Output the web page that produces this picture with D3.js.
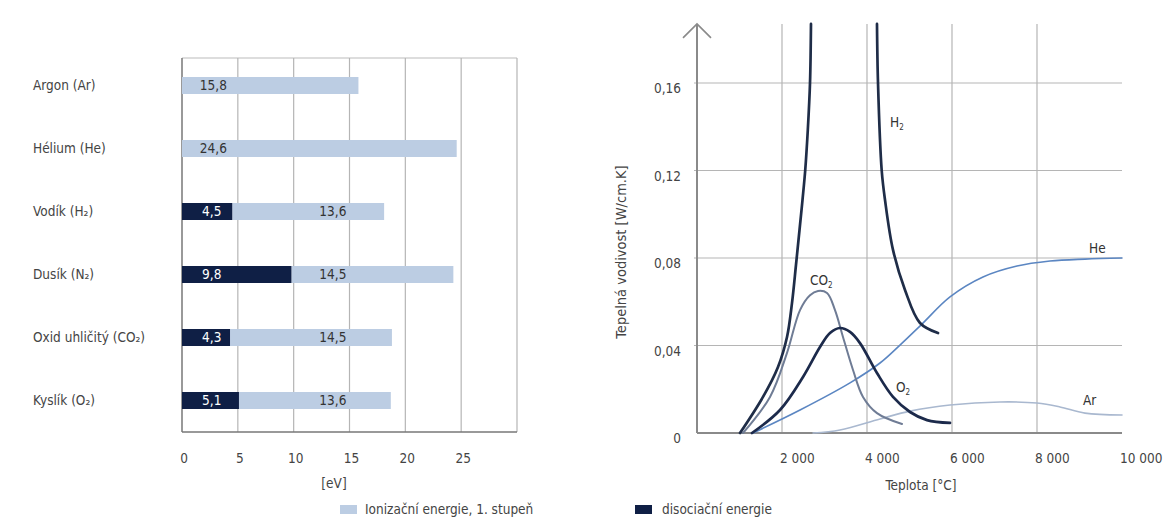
<!DOCTYPE html>
<html><head><meta charset="utf-8">
<script src="https://cdn.jsdelivr.net/npm/d3@7"></script>
<style>
body{margin:0;background:#fff;}
svg{display:block;font-family:"DejaVu Sans Condensed","Liberation Sans Narrow","Roboto",sans-serif;}
</style></head>
<body><svg id="c" width="1176" height="523"></svg>
<script>
// ---- Left chart data ----
const categories = ["Argon (Ar)", "Hélium (He)", "Vodík (H₂)", "Dusík (N₂)", "Oxid uhličitý (CO₂)", "Kyslík (O₂)"];
const dissociation = [0, 0, 4.5, 9.8, 4.3, 5.1];
const ionization = [15.8, 24.6, 13.6, 14.5, 14.5, 13.6];
const eVTicks = [0, 5, 10, 15, 20, 25];
const eVGrid = [0, 5, 10, 15, 20, 25, 30];

// ---- Right chart data: [temperature °C, conductivity W/cm.K] ----
const h2Left = [[1012,0],[1553,0.0165],[1906,0.0302],[2118,0.0439],[2235,0.0594],[2329,0.0768],[2412,0.0928],[2482,0.1065],[2546,0.120],[2607,0.1385],[2659,0.160],[2682,0.187]];
const h2Right = [[4235,0.187],[4259,0.160],[4346,0.120],[4424,0.1065],[4612,0.0837],[4894,0.0654],[5247,0.0503],[5671,0.0457]];
const co2 = [[1082,0],[1718,0.0165],[2118,0.0366],[2424,0.0562],[2659,0.063],[2847,0.0649],[3059,0.064],[3247,0.0562],[3435,0.0439],[3671,0.0288],[3906,0.0165],[4235,0.0091],[4824,0.0041]];
const o2 = [[1294,0],[1953,0.0105],[2494,0.0256],[2894,0.0393],[3129,0.0457],[3365,0.048],[3600,0.0462],[3835,0.0411],[4235,0.0274],[4612,0.0165],[5012,0.0096],[5412,0.0059],[5953,0.0046]];
const he = [[1318,0],[2424,0.0105],[3600,0.0229],[4306,0.0320],[4776,0.0402],[5294,0.0498],[5953,0.0622],[6729,0.0713],[7529,0.0763],[8306,0.0786],[9129,0.0795],[10000,0.080]];
const ar = [[2730,0],[3365,0.0014],[4306,0.0064],[5012,0.010],[5953,0.0128],[7129,0.0142],[8000,0.0137],[8541,0.0119],[9129,0.0091],[10000,0.0082]];
const tempTicks = [2000, 4000, 6000, 8000, 10000];
const condTicks = [0, 0.04, 0.08, 0.12, 0.16];

const svg = d3.select("#c");
const LIGHT = "#bccde3", DARK = "#0f1f45";
const FS = 13.5;
const fmt = v => String(v).replace(".", ",");

// ================= LEFT CHART =================
const x1 = d3.scaleLinear().domain([0, 30]).range([182, 517]);
const y1 = d3.scalePoint().domain(categories).range([54, 432]).padding(0.5);
const top1 = 58, bot1 = 432, barH = 17;
const L = svg.append("g");

L.append("line").attr("x1", x1(0)).attr("x2", x1(30)).attr("y1", top1).attr("y2", top1)
  .attr("stroke", "#bbb").attr("stroke-width", 1);
L.selectAll("line.vg").data(eVGrid).join("line").attr("class", "vg")
  .attr("x1", d => x1(d)).attr("x2", d => x1(d)).attr("y1", top1).attr("y2", bot1)
  .attr("stroke", d => d === 0 ? "#777" : "#b5b5b5").attr("stroke-width", d => d === 0 ? 1.5 : 1.2);
L.append("line").attr("x1", x1(0)).attr("x2", x1(30)).attr("y1", bot1).attr("y2", bot1)
  .attr("stroke", "#777").attr("stroke-width", 1.5);

const rows = categories.map((c, i) => ({c, dis: dissociation[i], ion: ionization[i]}));
L.selectAll("rect.ion").data(rows).join("rect").attr("class", "ion")
  .attr("x", d => x1(d.dis)).attr("width", d => x1(d.dis + d.ion) - x1(d.dis))
  .attr("y", d => y1(d.c) - barH / 2).attr("height", barH).attr("fill", LIGHT);
L.selectAll("rect.dis").data(rows.filter(d => d.dis > 0)).join("rect").attr("class", "dis")
  .attr("x", x1(0)).attr("width", d => x1(d.dis) - x1(0))
  .attr("y", d => y1(d.c) - barH / 2).attr("height", barH).attr("fill", DARK);

L.selectAll("text.cat").data(categories).join("text").attr("class", "cat")
  .attr("x", 33).attr("y", d => y1(d) + 4.5).attr("font-size", FS).attr("fill", "#444").text(d => d);
L.selectAll("text.dl").data(rows.filter(d => d.dis > 0)).join("text").attr("class", "dl")
  .attr("x", x1(1.8)).attr("y", d => y1(d.c) + 4.5).attr("font-size", FS).attr("fill", "#fff").text(d => fmt(d.dis));
L.selectAll("text.il").data(rows).join("text").attr("class", "il")
  .attr("x", d => d.dis > 0 ? x1(12.3) : x1(1.6)).attr("y", d => y1(d.c) + 4.5)
  .attr("font-size", FS).attr("fill", "#333").text(d => fmt(d.ion));

L.selectAll("text.xt").data(eVTicks).join("text").attr("class", "xt")
  .attr("x", d => x1(d) + 2).attr("y", 463).attr("text-anchor", "middle")
  .attr("font-size", FS).attr("fill", "#444").text(d => d);
L.append("text").attr("x", 334).attr("y", 488).attr("text-anchor", "middle")
  .attr("font-size", FS).attr("fill", "#444").text("[eV]");

// Legend
L.append("rect").attr("x", 340).attr("y", 505).attr("width", 17).attr("height", 9).attr("fill", LIGHT);
L.append("text").attr("x", 365).attr("y", 514).attr("font-size", FS).attr("fill", "#444").text("Ionizační energie, 1. stupeň");
L.append("rect").attr("x", 635).attr("y", 505).attr("width", 17).attr("height", 9).attr("fill", DARK);
L.append("text").attr("x", 662).attr("y", 514).attr("font-size", FS).attr("fill", "#444").text("disociační energie");

// ================= RIGHT CHART =================
const x2 = d3.scaleLinear().domain([0, 10000]).range([697, 1122]);
const y2 = d3.scaleLinear().domain([0, 0.16]).range([433, 83]);
const R = svg.append("g");
const yTop = y2(0.187);

R.selectAll("line.hg").data(condTicks.filter(d => d > 0)).join("line").attr("class", "hg")
  .attr("x1", x2(0) - 3).attr("x2", x2(10000)).attr("y1", d => y2(d)).attr("y2", d => y2(d))
  .attr("stroke", "#b5b5b5").attr("stroke-width", 1.2);
R.selectAll("line.vg").data(tempTicks.filter(d => d < 10000)).join("line").attr("class", "vg")
  .attr("x1", d => x2(d)).attr("x2", d => x2(d)).attr("y1", yTop).attr("y2", y2(0))
  .attr("stroke", "#b5b5b5").attr("stroke-width", 1.2);
R.append("line").attr("x1", x2(0)).attr("x2", x2(0)).attr("y1", yTop).attr("y2", y2(0))
  .attr("stroke", "#8a8a8a").attr("stroke-width", 2);
R.append("line").attr("x1", x2(0)).attr("x2", x2(10000)).attr("y1", y2(0)).attr("y2", y2(0))
  .attr("stroke", "#8a8a8a").attr("stroke-width", 2);
R.append("polyline").attr("points", `${x2(0)-14},${yTop+14} ${x2(0)},${yTop} ${x2(0)+14},${yTop+14}`)
  .attr("fill", "none").attr("stroke", "#8a8a8a").attr("stroke-width", 1.6);

R.selectAll("text.yt").data(condTicks).join("text").attr("class", "yt")
  .attr("x", 681).attr("y", d => y2(d) + 10).attr("text-anchor", "end")
  .attr("font-size", FS).attr("fill", "#444").text(d => d === 0 ? "0" : d.toFixed(2).replace(".", ","));
R.selectAll("text.xt").data(tempTicks).join("text").attr("class", "xt")
  .attr("x", d => x2(d) - 2).attr("y", 463).attr("font-size", FS).attr("fill", "#444")
  .text(d => d3.format(",")(d).replace(",", " "));
R.append("text").attr("x", 921).attr("y", 490).attr("text-anchor", "middle")
  .attr("font-size", FS).attr("fill", "#444").text("Teplota [°C]");
R.append("text").attr("transform", "translate(626,252) rotate(-90)").attr("text-anchor", "middle")
  .attr("font-size", 14.5).attr("fill", "#444").text("Tepelná vodivost [W/cm.K]");

const line = d3.line().x(d => x2(d[0])).y(d => y2(d[1])).curve(d3.curveCatmullRom.alpha(0.5));
const series = [
  {d: ar, c: "#a9b8cf", w: 1.6},
  {d: he, c: "#5b86c2", w: 1.6},
  {d: co2, c: "#6f7c95", w: 2},
  {d: o2, c: "#1c2a4b", w: 2.7},
  {d: h2Left, c: "#1f2d48", w: 2.7},
  {d: h2Right, c: "#1f2d48", w: 2.7}
];
R.selectAll("path.s").data(series).join("path").attr("class", "s")
  .attr("d", s => line(s.d)).attr("fill", "none").attr("stroke", s => s.c)
  .attr("stroke-width", s => s.w).attr("stroke-linecap", "round");

const lbl = (x, y, main, sub) => {
  const t = R.append("text").attr("x", x).attr("y", y).attr("font-size", FS).attr("fill", "#333").text(main);
  if (sub) t.append("tspan").attr("font-size", 8).attr("dy", 3).text(sub);
};
lbl(890, 127, "H", "2");
lbl(810, 285, "CO", "2");
lbl(896, 392, "O", "2");
lbl(1089, 253, "He");
lbl(1083, 405, "Ar");
</script></body></html>
